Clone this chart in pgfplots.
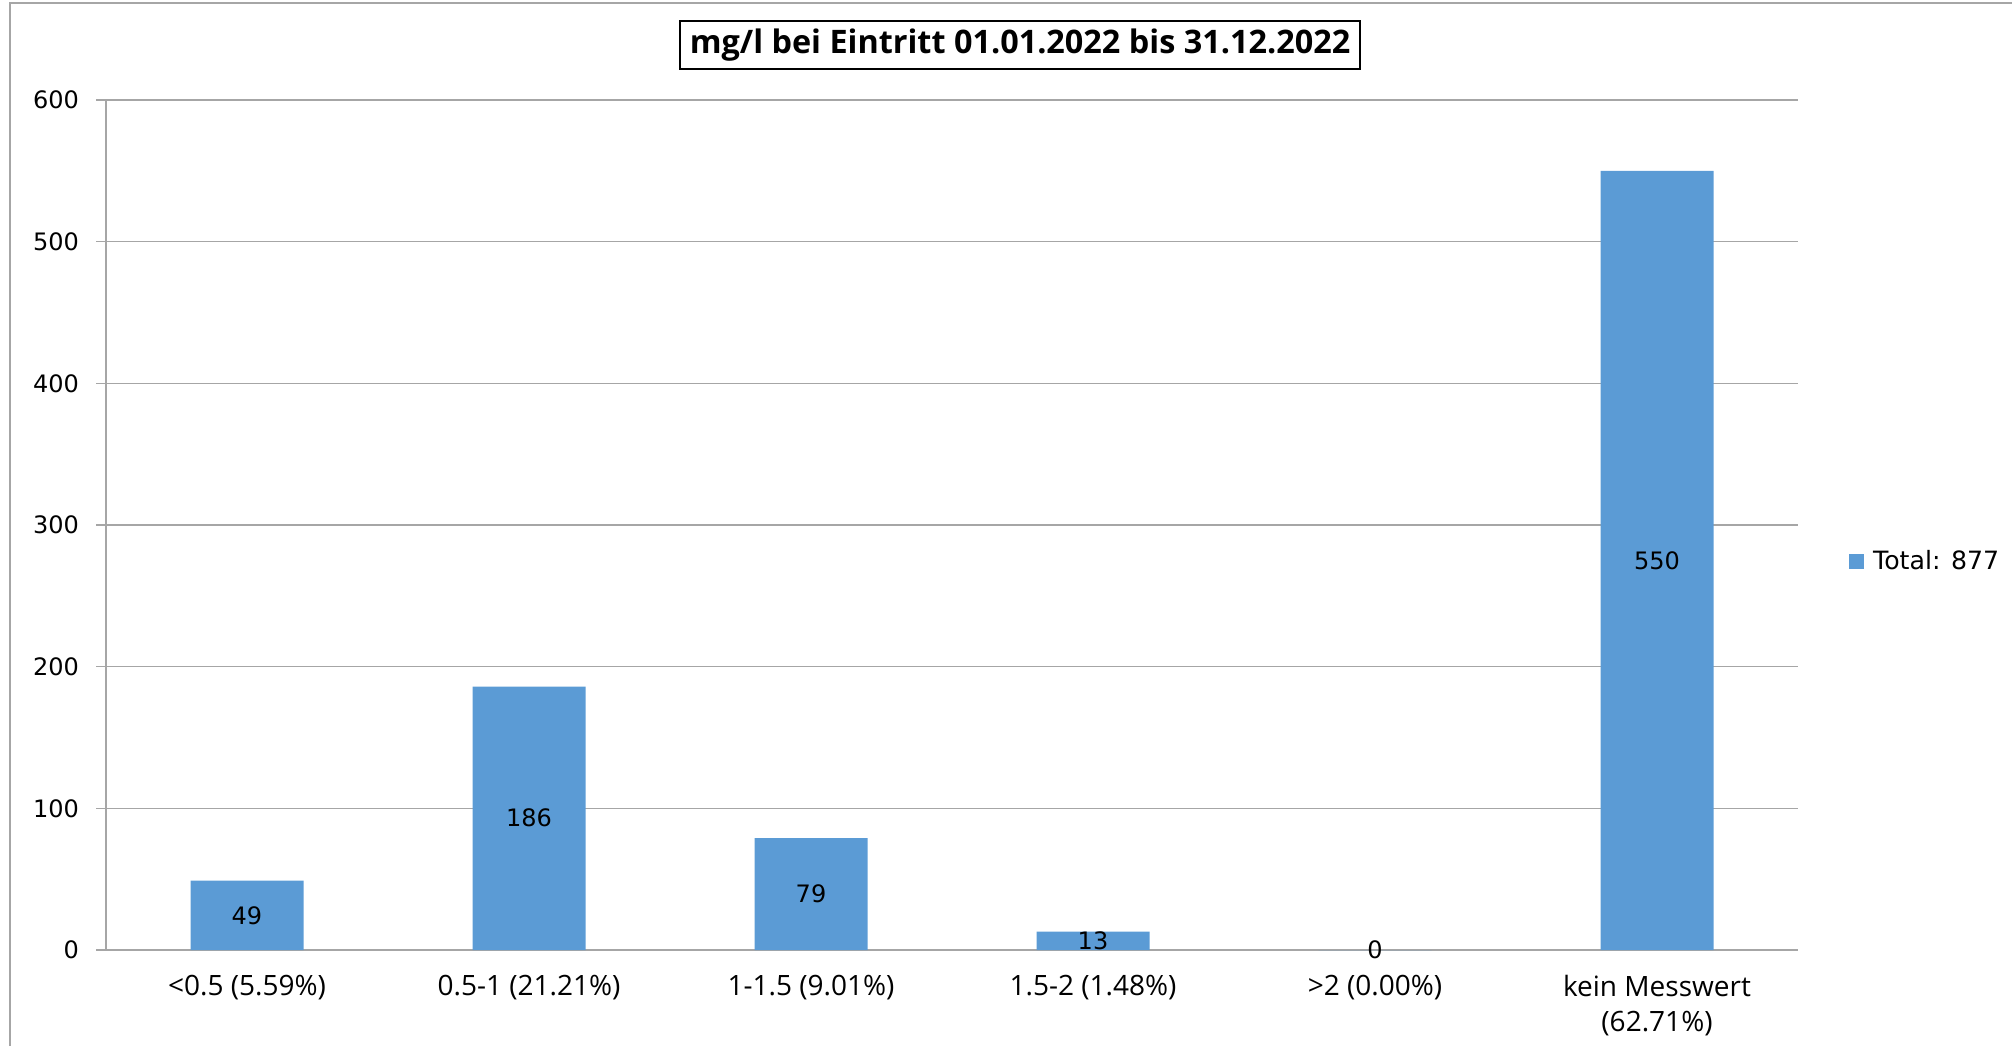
\documentclass[border=0pt]{standalone}
\usepackage{fontspec}
\setmainfont{Open Sans}
\newfontfamily\dejavu{DejaVu Sans}
\usepackage{pgfplots}
\pgfplotsset{compat=1.18}
\definecolor{barblue}{HTML}{5B9BD5}
\definecolor{gridgray}{HTML}{A6A6A6}
\begin{document}
\begin{tikzpicture}
\useasboundingbox (0,0) rectangle (1006pt,523pt);
\draw[gridgray, line width=0.8pt] (5pt,0) -- (5pt,521.5pt) -- (1006pt,521.5pt);
\node[draw=black, line width=1pt, inner xsep=5pt, inner ysep=4pt,
      text height=12.2pt, text depth=3.8pt,
      font=\bfseries\fontsize{16.2}{19}\selectfont] at (510pt,500.5pt)
     {mg/l bei Eintritt 01.01.2022 bis 31.12.2022};
\begin{axis}[
  at={(53pt,48pt)}, anchor=south west,
  scale only axis, width=846pt, height=425pt,
  ymin=0, ymax=600, ytick={0,100,...,600},
  xmin=-0.5, xmax=5.5,
  xtick={0,...,5},
  xticklabels={{<0.5 (5.59\%)},{0.5-1 (21.21\%)},{1-1.5 (9.01\%)},{1.5-2 (1.48\%)},{>2 (0.00\%)},{kein Messwert\\(62.71\%)}},
  minor xtick={-0.5,0.5,...,5.5},
  axis x line*=bottom, axis y line*=left,
  axis line style={gridgray, line width=0.8pt, -},
  tick align=outside,
  major tick length=5pt, minor tick length=5pt,
  xtick style={draw=none},
  minor x tick style={gridgray, line width=0.8pt},
  ytick style={gridgray, line width=0.8pt},
  ymajorgrids, grid style={gridgray, line width=0.8pt},
  /pgf/number format/assume math mode=true,
  yticklabel style={font=\dejavu\fontsize{12}{14}\selectfont, text=black, xshift=-5pt},
  xticklabel style={font=\fontsize{14}{17.5}\selectfont, align=center, text=black, yshift=-4pt},
  ybar, bar width=56.5pt,
  nodes near coords,
  visualization depends on=rawy \as \rawy,
  nodes near coords style={anchor=center, shift={(axis direction cs:0,-\rawy/2)},
    font=\dejavu\fontsize{12}{14}\selectfont, text=black},
  legend style={at={(1.03,0.4576)}, anchor=west, draw=none, fill=none, inner sep=0pt,
    font=\dejavu\fontsize{12.6}{14}\selectfont,
    /tikz/every odd column/.append style={column sep=2.5pt}},
  legend image code/.code={\fill[barblue] (0pt,-3.75pt) rectangle (7.5pt,3.75pt);},
]
\addplot[fill=barblue, draw=none] coordinates {
  (0,49) (1,186) (2,79) (3,13) (4,0) (5,550)
};
\legend{Total: 877}
\end{axis}
\end{tikzpicture}
\end{document}
